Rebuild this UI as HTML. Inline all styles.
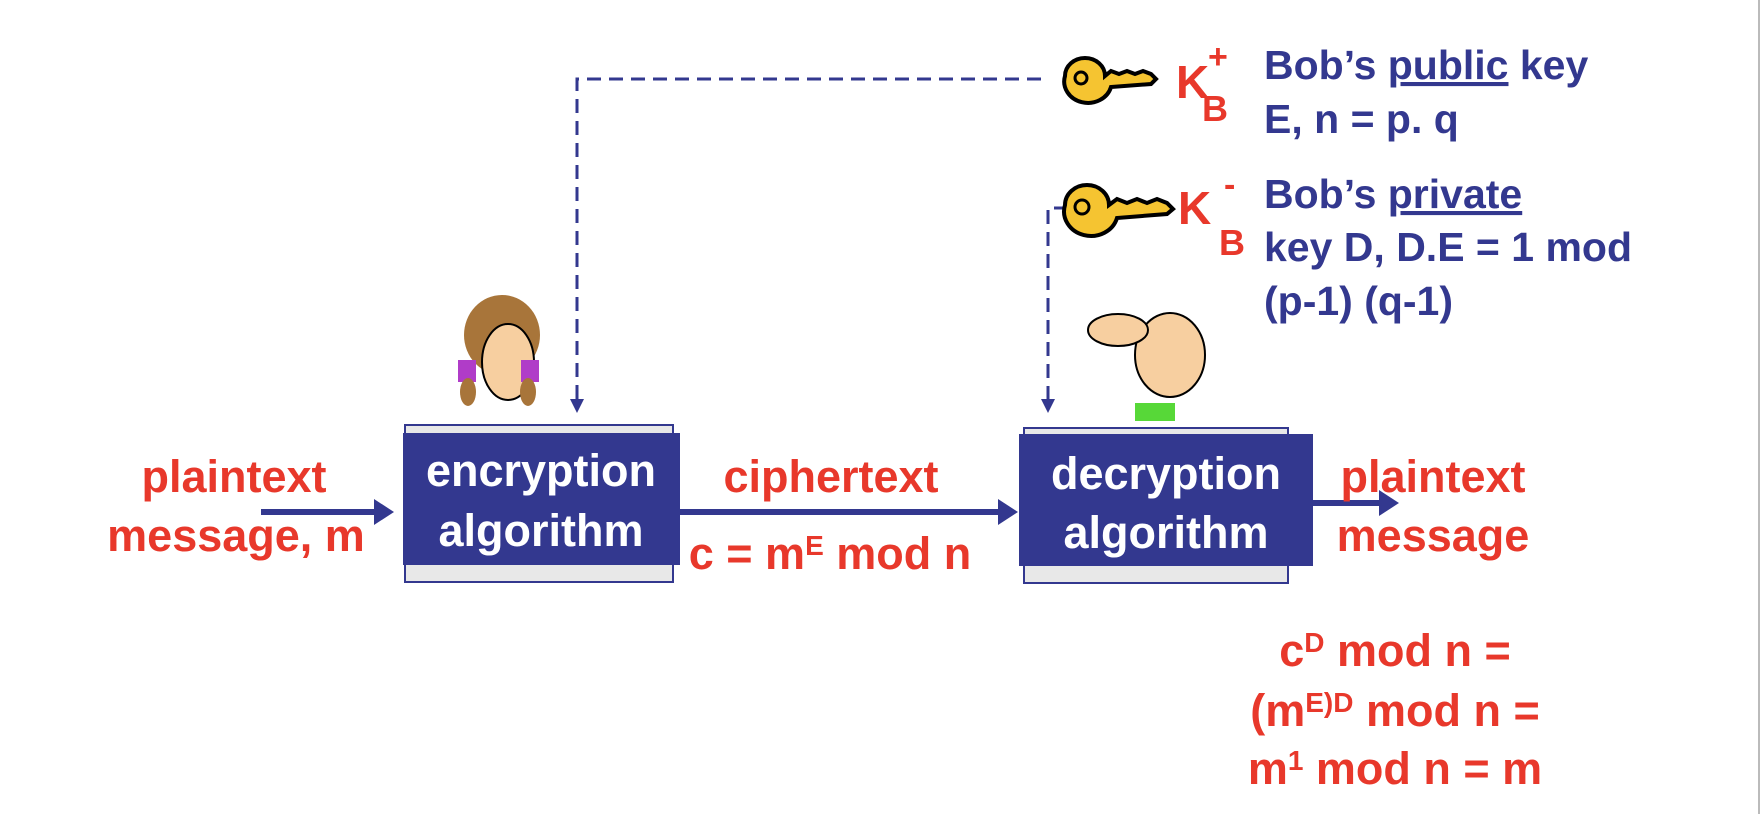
<!DOCTYPE html>
<html><head><meta charset="utf-8"><style>
html,body{margin:0;padding:0;background:#fff;}
svg{display:block;}
text{font-family:"Liberation Sans",sans-serif;font-weight:bold;}
.r{fill:#e8382b;font-size:45px;}
.b{fill:#33388f;font-size:41px;}
.w{fill:#fff;font-size:45px;}
</style></head><body>
<svg width="1764" height="814" viewBox="0 0 1764 814" xmlns="http://www.w3.org/2000/svg">
<rect width="1764" height="814" fill="#fff"/>
<line x1="1759" y1="0" x2="1759" y2="814" stroke="#bbb" stroke-width="2"/>
<g stroke="#33388f" stroke-width="3" fill="none" stroke-dasharray="14,8">
<polyline points="1041,79 577,79 577,400"/>
<polyline points="1090,208 1048,208 1048,400"/>
</g>
<polygon points="570,399 584,399 577,413" fill="#33388f"/>
<polygon points="1041,399 1055,399 1048,413" fill="#33388f"/>
<g stroke="#000" stroke-width="4" fill="#f5c431">
<path d="M1065,76 a20,18 0 1 1 40,0 l6,-5 l8,3 l8,-3 l8,3 l8,-3 l8,3 l5,5 l-5,5 l-40,3 a20,18 0 0 1 -46,-11z"/>
<path d="M1065,205 a22,20 0 1 1 44,0 l8,-6 l10,4 l10,-4 l10,4 l10,-4 l10,4 l6,6 l-6,5 l-50,4 a22,20 0 0 1 -52,-13z"/>
</g>
<circle cx="1081" cy="78" r="6" fill="none" stroke="#000" stroke-width="3"/>
<circle cx="1082" cy="207" r="7" fill="none" stroke="#000" stroke-width="3"/>
<text class="r" x="1176" y="98" style="font-size:46px">K</text>
<text class="r" x="1208" y="68" style="font-size:34px">+</text>
<text class="r" x="1202" y="121" style="font-size:36px">B</text>
<text class="r" x="1178" y="224" style="font-size:46px">K</text>
<text class="r" x="1224" y="196" style="font-size:34px">-</text>
<text class="r" x="1219" y="255" style="font-size:36px">B</text>
<text class="b" x="1264" y="79">Bob’s <tspan text-decoration="underline">public</tspan> key</text>
<text class="b" x="1264" y="133">E, n = p. q</text>
<text class="b" x="1264" y="208">Bob’s <tspan text-decoration="underline">private</tspan></text>
<text class="b" x="1264" y="261">key D, D.E = 1 mod</text>
<text class="b" x="1264" y="315">(p-1) (q-1)</text>
<g>
<ellipse cx="502" cy="335" rx="38" ry="40" fill="#a8753a"/>
<ellipse cx="508" cy="362" rx="26" ry="38" fill="#f7cfa0" stroke="#000" stroke-width="2"/>
<rect x="458" y="360" width="18" height="22" fill="#b03cc8"/>
<rect x="521" y="360" width="18" height="22" fill="#b03cc8"/>
<ellipse cx="468" cy="392" rx="8" ry="14" fill="#a8753a"/>
<ellipse cx="528" cy="392" rx="8" ry="14" fill="#a8753a"/>
</g>
<g>
<ellipse cx="1170" cy="355" rx="35" ry="42" fill="#f7cfa0" stroke="#000" stroke-width="2"/>
<ellipse cx="1118" cy="330" rx="30" ry="16" fill="#f7cfa0" stroke="#000" stroke-width="2"/>
<rect x="1135" y="403" width="40" height="18" fill="#57d838"/>
</g>
<rect x="405" y="425" width="268" height="157" fill="#e8e8e8" stroke="#33388f" stroke-width="2"/>
<rect x="403" y="433" width="277" height="132" fill="#33388f"/>
<text class="w" x="541" y="486" text-anchor="middle">encryption</text>
<text class="w" x="541" y="546" text-anchor="middle">algorithm</text>
<rect x="1024" y="428" width="264" height="155" fill="#e8e8e8" stroke="#33388f" stroke-width="2"/>
<rect x="1019" y="434" width="294" height="132" fill="#33388f"/>
<text class="w" x="1166" y="489" text-anchor="middle">decryption</text>
<text class="w" x="1166" y="548" text-anchor="middle">algorithm</text>
<g fill="#33388f">
<rect x="261" y="509" width="115" height="6"/><polygon points="374,499 394,512 374,525"/>
<rect x="680" y="509" width="320" height="6"/><polygon points="998,499 1018,512 998,525"/>
<rect x="1313" y="500" width="68" height="6"/><polygon points="1379,490 1399,503 1379,516"/>
</g>
<text class="r" x="234" y="492" text-anchor="middle">plaintext</text>
<text class="r" x="236" y="551" text-anchor="middle">message, m</text>
<text class="r" x="831" y="492" text-anchor="middle">ciphertext</text>
<text class="r" x="830" y="569" text-anchor="middle">c = m<tspan dy="-14" style="font-size:28px">E</tspan><tspan dy="14"> mod n</tspan></text>
<text class="r" x="1433" y="492" text-anchor="middle">plaintext</text>
<text class="r" x="1433" y="551" text-anchor="middle">message</text>
<text class="r" x="1395" y="666" text-anchor="middle">c<tspan dy="-14" style="font-size:28px">D</tspan><tspan dy="14"> mod n =</tspan></text>
<text class="r" x="1395" y="726" text-anchor="middle">(m<tspan dy="-14" style="font-size:28px">E)D</tspan><tspan dy="14"> mod n =</tspan></text>
<text class="r" x="1395" y="784" text-anchor="middle">m<tspan dy="-14" style="font-size:28px">1</tspan><tspan dy="14"> mod n = m</tspan></text>
</svg>
</body></html>
